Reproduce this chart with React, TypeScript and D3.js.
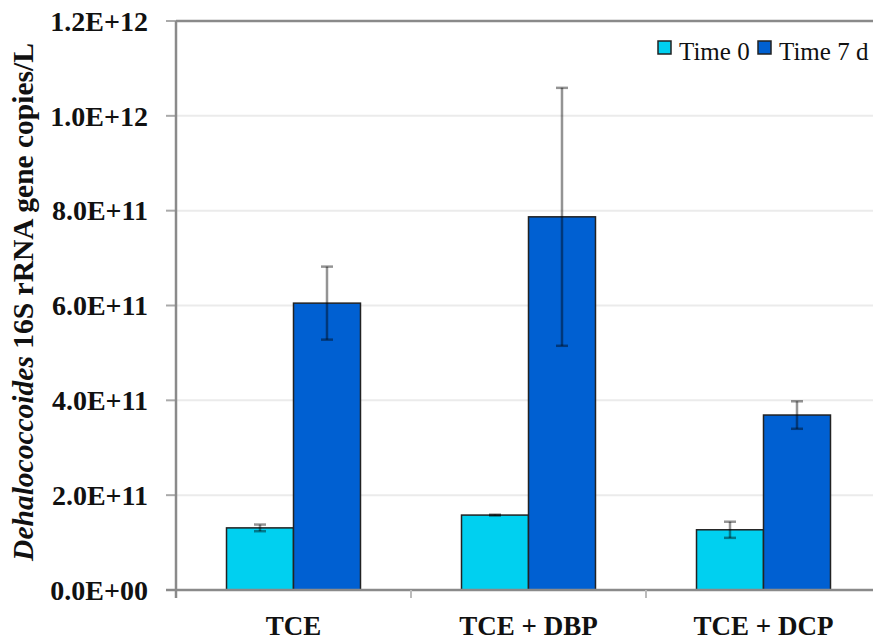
import React from "react";
import * as d3 from "d3";

const categories = ["TCE", "TCE + DBP", "TCE + DCP"];
const seriesNames = ["Time 0", "Time 7 d"];
const time0Values = [1.31e11, 1.58e11, 1.27e11];
const time0Errors = [0.07e11, 0.01e11, 0.17e11];
const time7Values = [6.05e11, 7.87e11, 3.69e11];
const time7Errors = [0.77e11, 2.72e11, 0.29e11];
const yTicks = [0, 2e11, 4e11, 6e11, 8e11, 1e12, 1.2e12];
const yTickLabels = ["0.0E+00", "2.0E+11", "4.0E+11", "6.0E+11", "8.0E+11", "1.0E+12", "1.2E+12"];

const colors = ["#00D0F0", "#0060D2"];
const W = 873, H = 642;
const left = 176, top = 21, bottom = 590, step = 235;

export default function App() {
  const y = d3.scaleLinear().domain([0, 1.2e12]).range([bottom, top]);
  const x0 = d3.scaleBand<string>().domain(categories).range([left, left + step * categories.length]).padding(0);
  const x1 = d3.scaleBand<string>().domain(seriesNames).range([0, x0.bandwidth()]).paddingInner(0).paddingOuter(0.754);
  const values = [time0Values, time7Values];
  const errors = [time0Errors, time7Errors];
  const font = "'Liberation Serif', 'Times New Roman', serif";

  return (
    <svg width={W} height={H} style={{ position: "absolute", left: 0, top: 0, background: "#fff" }} fontFamily={font}>
      {/* gridlines */}
      {yTicks.map((t, i) => (
        <line key={"g" + i} x1={left} x2={W} y1={y(t)} y2={y(t)}
          stroke={t === 1.2e12 ? "#8a8a8a" : "#ebebeb"} strokeWidth={t === 1.2e12 ? 2.5 : 2} />
      ))}
      {/* y ticks and labels */}
      {yTicks.map((t, i) => (
        <g key={"t" + i}>
          <line x1={left - 10} x2={left} y1={y(t)} y2={y(t)} stroke="#aaa" strokeWidth={2} />
          <text x={148} y={y(t)} dy="0.35em" textAnchor="end" fontSize={28} fontWeight="bold" fill="#111">
            {yTickLabels[i]}
          </text>
        </g>
      ))}
      {/* bars */}
      {categories.map((c, ci) => (
        <g key={c} transform={`translate(${x0(c)},0)`}>
          {seriesNames.map((s, si) => (
            <rect key={s} x={x1(s)} width={x1.bandwidth()} y={y(values[si][ci])}
              height={bottom - y(values[si][ci])} fill={colors[si]} stroke="#222" strokeWidth={1.5} />
          ))}
        </g>
      ))}
      {/* error bars */}
      {categories.map((c, ci) => (
        <g key={"e" + c} transform={`translate(${x0(c)},0)`}>
          {seriesNames.map((s, si) => {
            const cx = (x1(s) as number) + x1.bandwidth() / 2;
            const v = values[si][ci], e = errors[si][ci];
            const y1 = y(v + e), y2 = y(v - e);
            return (
              <g key={s} stroke="#000" strokeOpacity={0.42} strokeWidth={2.5}>
                <line x1={cx} x2={cx} y1={y1} y2={y2} />
                <line x1={cx - 6} x2={cx + 6} y1={y1} y2={y1} />
                <line x1={cx - 6} x2={cx + 6} y1={y2} y2={y2} />
              </g>
            );
          })}
        </g>
      ))}
      {/* axes */}
      <line x1={left} x2={left} y1={top} y2={bottom + 8} stroke="#8a8a8a" strokeWidth={2.5} />
      <line x1={left - 10} x2={W} y1={bottom} y2={bottom} stroke="#8a8a8a" strokeWidth={2.5} />
      {categories.map((c, ci) => (
        <line key={"xt" + ci} x1={(x0(c) as number) + step} x2={(x0(c) as number) + step}
          y1={bottom} y2={bottom + 8} stroke="#bbb" strokeWidth={2} />
      ))}
      {categories.map((c) => (
        <text key={"xl" + c} x={(x0(c) as number) + x0.bandwidth() / 2} y={635} textAnchor="middle"
          fontSize={27} fontWeight="bold" fill="#111">{c}</text>
      ))}
      {/* y title */}
      <text transform={`translate(33,302) rotate(-90)`} textAnchor="middle"
        fontSize={29.5} fontWeight="bold" fill="#111">
        <tspan fontStyle="italic">Dehalococcoides</tspan> 16S rRNA gene copies/L
      </text>
      {/* legend */}
      {seriesNames.map((s, si) => {
        const lx = [658, 758][si];
        return (
          <g key={"lg" + s}>
            <rect x={lx} y={41} width={13} height={13} fill={colors[si]} stroke="#222" strokeWidth={1.5} />
            <text x={lx + 21} y={60} fontSize={25} fill="#111">{s}</text>
          </g>
        );
      })}
    </svg>
  );
}
